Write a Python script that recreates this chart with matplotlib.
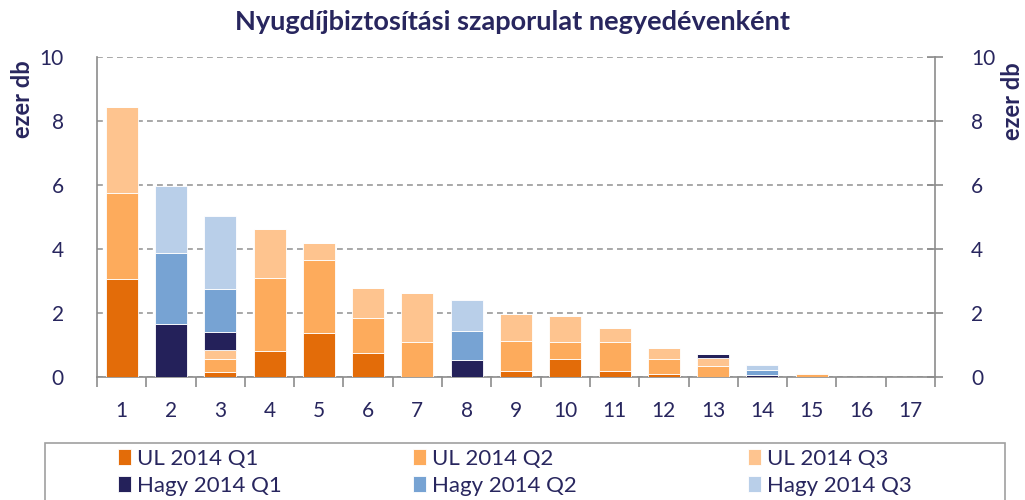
import numpy as np
import matplotlib.pyplot as plt
from matplotlib.patches import Rectangle

# Adatok (ezer db)
kategoriak = [str(i) for i in range(1, 18)]
ul_q1 = [3.06, 0, 0.17, 0.81, 1.37, 0.76, 0, 0, 0.20, 0.56, 0.20, 0.08, 0, 0, 0, 0, 0]
ul_q2 = [2.70, 0, 0.39, 2.29, 2.29, 1.09, 1.09, 0, 0.92, 0.53, 0.89, 0.47, 0.33, 0, 0.08, 0, 0]
ul_q3 = [2.69, 0, 0.29, 1.52, 0.52, 0.92, 1.52, 0, 0.85, 0.83, 0.44, 0.37, 0.27, 0, 0.05, 0, 0]
hagy_q1 = [0, 1.65, 0.57, 0, 0, 0, 0, 0.52, 0, 0, 0, 0, 0.13, 0.05, 0, 0, 0]
hagy_q2 = [0, 2.22, 1.33, 0, 0, 0, 0, 0.93, 0, 0, 0, 0, 0, 0.16, 0, 0, 0]
hagy_q3 = [0, 2.09, 2.28, 0, 0, 0, 0, 0.96, 0, 0, 0, 0, 0, 0.15, 0, 0, 0]

sorozatok = [
    ("UL 2014 Q1", ul_q1, "#E36C09"),
    ("UL 2014 Q2", ul_q2, "#FDAB5C"),
    ("UL 2014 Q3", ul_q3, "#FEC48F"),
    ("Hagy 2014 Q1", hagy_q1, "#24215A"),
    ("Hagy 2014 Q2", hagy_q2, "#77A3D3"),
    ("Hagy 2014 Q3", hagy_q3, "#B9CFE9"),
]

plt.rcParams['font.family'] = ['Lato', 'DejaVu Sans']
navy = "#28265E"
szurke = "#8C8C8C"
W, H = 1025, 500

fig = plt.figure(figsize=(10.25, 5), dpi=100)
ax = fig.add_axes([97 / W, 1 - 377 / H, (935 - 97) / W, (377 - 57) / H])

x = np.arange(len(kategoriak))
alap = np.zeros(len(kategoriak))
kezelok = {}
for nev, ertek, szin in sorozatok:
    ertek = np.array(ertek)
    b = ax.bar(x, ertek, 0.65, bottom=alap, color=szin, edgecolor="white", linewidth=0.6, label=nev, zorder=3)
    kezelok[nev] = b
    alap = alap + ertek

ax.set_xlim(-0.5, len(kategoriak) - 0.5)
ax.set_ylim(0, 10)
ax.set_yticks(range(0, 11, 2))
ax.yaxis.grid(True, linestyle=(0, (3.5, 2.5)), color="#9A9A9A", linewidth=1.2, zorder=0)
ax.set_xticks(x)
ax.set_xticklabels(kategoriak, fontsize=15, color=navy)
ax.set_xticks(np.arange(-0.5, len(kategoriak)), minor=True)
ax.tick_params(axis='x', which='major', length=0, pad=17)
ax.tick_params(axis='x', which='minor', length=7, color=szurke, width=1.2)
ax.tick_params(axis='y', labelsize=15, labelcolor=navy, length=0, pad=24)
ax.spines['top'].set_visible(False)
for s in ['left', 'right', 'bottom']:
    ax.spines[s].set_color(szurke)
    ax.spines[s].set_linewidth(1.2)

ax2 = ax.twinx()
ax2.set_ylim(0, 10)
ax2.set_yticks(range(0, 11, 2))
ax2.tick_params(axis='y', labelsize=15, labelcolor=navy, direction='inout', length=12,
                width=1.2, color=szurke, pad=20)
for s in ax2.spines.values():
    s.set_visible(False)

fig.text(22 / W, 1 - 60 / H, "ezer db", rotation=90, ha='center', va='top',
         fontsize=17, fontweight='bold', color=navy)
fig.text(1012 / W, 1 - 62 / H, "ezer db", rotation=90, ha='center', va='top',
         fontsize=17, fontweight='bold', color=navy)

fig.text(0.5, 1 - 22 / H, "Nyugdíjbiztosítási szaporulat negyedévenként", ha='center', va='center',
         fontsize=19.5, fontweight='bold', color=navy)

# Jelmagyarázat: keret + három oszlop
fig.patches.append(Rectangle((45 / W, -0.05), 960 / W, 0.05 + 1 - 443 / H, transform=fig.transFigure,
                             facecolor='white', edgecolor="#A0A0A0", linewidth=1.2))
oszlopok = [("UL 2014 Q1", "Hagy 2014 Q1", 118), ("UL 2014 Q2", "Hagy 2014 Q2", 413),
            ("UL 2014 Q3", "Hagy 2014 Q3", 748)]
for felso, also, xp in oszlopok:
    leg = fig.legend([kezelok[felso], kezelok[also]], [felso, also], loc='upper left',
                     bbox_to_anchor=(xp / W, 1 - 449 / H), frameon=False, fontsize=16,
                     handlelength=0.6, handleheight=0.7, handletextpad=0.25, borderpad=0,
                     labelspacing=0.3, borderaxespad=0)
    for t in leg.get_texts():
        t.set_color(navy)

fig.savefig("out.png", dpi=100)
